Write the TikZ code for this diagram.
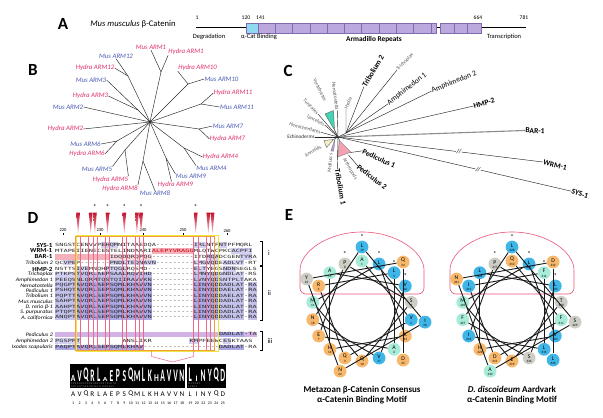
\documentclass[tikz,border=0pt]{standalone}
\usepackage{fontspec}
\usepackage{graphicx}
\setmainfont{Carlito}
\newfontfamily\seqff{DejaVu Sans Mono}
\usetikzlibrary{calc}
\definecolor{bpink}{HTML}{E0306A}
\definecolor{bblue}{HTML}{4B5BB4}
\definecolor{acyan}{HTML}{8FD9F2}
\definecolor{apurp}{HTML}{BBA9DD}
\definecolor{aedge}{HTML}{7F6BAE}
\definecolor{lavA}{HTML}{ABA8E3}
\definecolor{lavB}{HTML}{D3D1F2}
\definecolor{lilac}{HTML}{D2B2E4}
\definecolor{spink}{HTML}{F6B0BC}
\definecolor{colpink}{HTML}{EC6A88}
\definecolor{boxor}{HTML}{F2A03D}
\definecolor{boxye}{HTML}{F1E43C}
\definecolor{wblue}{HTML}{3FB6E7}
\definecolor{wteal}{HTML}{A8EBD9}
\definecolor{worange}{HTML}{F7B86C}
\definecolor{wgray}{HTML}{CDCDC6}
\definecolor{dome}{HTML}{EA5479}
\definecolor{cteal}{HTML}{44D3B3}
\definecolor{cpink}{HTML}{F3A2B2}
\definecolor{cyel}{HTML}{F2EFC4}
\definecolor{clil}{HTML}{B69CD8}
\definecolor{trired}{HTML}{C3122E}
\definecolor{trilight}{HTML}{F8C6CF}
\newcommand{\bgc}[4]{\fill[#1] ({55+4.2*(#3)},{#2-2.75}) rectangle ({55+4.2*((#4)+1)},{#2+2.75});}
\newcommand{\seqtxt}[1]{\scalebox{1}[0.62]{\seqff\fontsize{6.976}{7}\selectfont #1}}
\newcommand{\rlx}[1]{\scalebox{1.13}[1]{#1}}
\begin{document}
\begin{tikzpicture}[x=1pt,y=-1pt,
  plab/.style={font=\fontsize{17}{17}\selectfont\bfseries, inner sep=0},
  small/.style={font=\fontsize{6.5}{7}\selectfont, inner sep=0},
  num/.style={font=\fontsize{5.6}{6}\selectfont, inner sep=0},
  tl/.style={line width=0.45pt, draw=black!85},
  bm/.style={font=\fontsize{6.8}{7}\selectfont\itshape, inner sep=0.2pt, text=bblue},
  bh/.style={font=\fontsize{6.8}{7}\selectfont\itshape, inner sep=0.2pt, text=bpink},
  cg/.style={font=\fontsize{5.2}{5}\selectfont, text=black!65, inner sep=0.2pt},
  cb/.style={font=\fontsize{7.6}{8}\selectfont\bfseries, inner sep=0.2pt},
  cr/.style={font=\fontsize{7.6}{8}\selectfont, inner sep=0.2pt},
  rowlab/.style={font=\fontsize{5.3}{5}\selectfont\itshape, anchor=east, inner sep=0},
  rowbold/.style={font=\fontsize{6.2}{6}\selectfont\bfseries, anchor=east, inner sep=0},
  seq/.style={anchor=west, inner sep=0, text=black!85},
  res/.style={circle, minimum size=12.8pt, inner sep=0},
  reslet/.style={font=\fontsize{5.7}{5}\selectfont, inner sep=0},
  resnum/.style={font=\fontsize{3.3}{3}\selectfont, inner sep=0},
  wl/.style={line width=0.9pt, draw=black!90},
  ast/.style={font=\fontsize{7}{7}\selectfont, inner sep=0},
  ttl/.style={font=\fontsize{9}{9}\selectfont\bfseries, inner sep=0},
]
\useasboundingbox (0,0) rectangle (603,418);
\fill[white] (0,0) rectangle (603,418);

% ---------------- Panel A ----------------
\node[plab] (lA) at (63,24) {A};
\node[font=\fontsize{8.6}{9}\selectfont, inner sep=0] (tA) at (133,24.5) {\textit{Mus musculus} β-Catenin};
\coordinate (a0) at (196,27.5);
\coordinate (a1) at (526,27.5);
\draw[line width=0.6pt] (a0) -- (a1);
\draw[draw=aedge, fill=acyan, line width=0.4pt] (246,23) rectangle (258,33);
\draw[draw=aedge, fill=apurp, line width=0.4pt] (258,23) rectangle (436.5,33);
\foreach \x in {275,292,310,327,344,361.5,379,396,413,431} \draw[aedge, line width=0.4pt] (\x,23) -- (\x,33);
\draw[draw=aedge, fill=apurp, line width=0.4pt] (440,23) rectangle (481.5,33);
\foreach \x in {454,467} \draw[aedge, line width=0.4pt] (\x,23) -- (\x,33);
\node[num] (na1) at (197,17.5) {1};
\node[num] (na2) at (246,17.5) {120};
\node[num] (na3) at (260.5,17.5) {141};
\node[num] (na4) at (478,17.5) {664};
\node[num] (na5) at (524,17.5) {781};
\node[small] (la1) at (209,37) {Degradation};
\node[small] (la2) at (259,37) {α-Cat Binding};
\node[font=\fontsize{7.3}{8}\selectfont\bfseries, inner sep=0] (la3) at (374,40) {Armadillo Repeats};
\node[small] (la4) at (504,37) {Transcription};

% ---------------- Panel B ----------------
\node[plab] (lB) at (33,70) {B};
\coordinate (cB) at (150,122);
\node[bm] (m12) at (116,56) {Mus ARM12};
\node[bh] (m1) at (151,47.5) {Mus ARM1};
\node[bh] (h1) at (186,52) {Hydra ARM1};
\node[bh] (h12) at (95,68) {Hydra ARM12};
\node[bm] (m3) at (91,80) {Mus ARM3};
\node[bh] (h3) at (90.5,96) {Hydra ARM3};
\node[bm] (m2) at (68,107) {Mus ARM2};
\node[bh] (h2) at (65.5,129) {Hydra ARM2};
\node[bm] (m6) at (85.5,144) {Mus ARM6};
\node[bh] (h6) at (87,154) {Hydra ARM6};
\node[bm] (m5) at (97,169) {Mus ARM5};
\node[bh] (h5) at (110.5,179.5) {Hydra ARM5};
\node[bh] (h8) at (120,188.5) {Hydra ARM8};
\node[bm] (m8) at (155,193.5) {Mus ARM8};
\node[bh] (h9) at (175.5,185) {Hydra ARM9};
\node[bm] (m9) at (191,176.5) {Mus ARM9};
\node[bh] (h10) at (197.5,68) {Hydra ARM10};
\node[bm] (m10) at (221.5,79) {Mus ARM10};
\node[bh] (h11) at (233,93) {Hydra ARM11};
\node[bm] (m11) at (237,107) {Mus ARM11};
\node[bm] (m7) at (228,126) {Mus ARM7};
\node[bh] (h7) at (227.5,139) {Hydra ARM7};
\node[bh] (h4) at (220.5,157) {Hydra ARM4};
\node[bm] (m4) at (211.5,168) {Mus ARM4};
\coordinate (n1) at (161,72);
\coordinate (n12) at (128,76);
\coordinate (n3) at (138,110);
\coordinate (n6) at (117,141);
\coordinate (n5) at (125,150);
\coordinate (n8) at (143,161);
\coordinate (n9) at (166,158);
\coordinate (n4) at (184,148);
\coordinate (n7) at (199,129);
\coordinate (n11) at (201,104);
\coordinate (n10) at (188,84);
\foreach \nn in {n1,n12,n3,n6,n5,n8,n9,n4,n7,n11,n10} \draw[tl] (cB) -- (\nn);
\draw[tl] (n1) -- (m1.south); \draw[tl] (n1) -- (h1.south west);
\draw[tl] (n12) -- (m12.south); \draw[tl] (n12) -- (h12.east);
\draw[tl] (n3) -- (m3.east); \draw[tl] (n3) -- (h3.east);
\draw[tl] (cB) -- (m2.east); \draw[tl] (cB) -- (h2.east);
\draw[tl] (n6) -- (m6.east); \draw[tl] (n6) -- (h6.east);
\draw[tl] (n5) -- (m5.north east); \draw[tl] (n5) -- (h5.north east);
\draw[tl] (n8) -- (h8.north east); \draw[tl] (n8) -- (m8.north);
\draw[tl] (n9) -- ([xshift=-4pt]h9.north); \draw[tl] (n9) -- (m9.north west);
\draw[tl] (n4) -- (h4.west); \draw[tl] (n4) -- (m4.north west);
\draw[tl] (n7) -- (m7.west); \draw[tl] (n7) -- (h7.west);
\draw[tl] (n11) -- (h11.west); \draw[tl] (n11) -- (m11.west);
\draw[tl] (n10) -- (h10.south west); \draw[tl] (n10) -- (m10.west);

% ---------------- Panel C ----------------
\node[plab] (lC) at (288,71) {C};
\coordinate (cC) at (338,137);
\coordinate (cR) at (346,133);
\node[cg, text=black!85] (echi) at (301,137) {Echinoderms};
\node[cg, rotate=-15] (hemi) at (305,128) {Hemichordates};
\node[cg, rotate=-27] (lanc) at (316,120.5) {lancelets};
\node[cg, rotate=-47] (tuni) at (311,106.5) {Tunicates};
\node[cg, rotate=-64] (vert) at (320,90) {Vertebrates};
\node[cg, rotate=-83] (nema) at (335.5,96) {Nematostella};
\node[cg, rotate=68] (hydc) at (348.5,103) {Hydra};
\node[cb, rotate=60] (trib2) at (373,71) {Tribolium 2};
\node[cg, rotate=45] (tric) at (405,62) {Trichoplax};
\node[cr, rotate=38] (amp1) at (407,89) {Amphimedon 1};
\node[cr, rotate=22] (amp2) at (454,82) {Amphimedon 2};
\node[cb, rotate=16] (hmp) at (484,103) {HMP-2};
\node[cb, rotate=-3] (bar) at (535,131) {BAR-1};
\node[cb, rotate=-14] (wrm) at (555,165) {WRM-1};
\node[cb, rotate=-18] (sys) at (580,194) {SYS-1};
\node[cg, rotate=30] (anne) at (313,151) {Annelids};
\node[cg, rotate=85] (moll) at (330,163) {Molluscs};
\node[cg, rotate=-60] (arth) at (350,169) {Arthropods};
\node[cb, rotate=-80] (trib1) at (340.5,187) {Tribolium 1};
\node[cb, rotate=-25] (ped1) at (379,158.5) {Pediculus 1};
\node[cb, rotate=-38] (ped2) at (372,177) {Pediculus 2};
\draw[tl] (echi.east) -- (cC);
\draw[tl] (hemi.east) -- (cC);
\draw[tl] (lanc.east) -- (cC);
\draw[tl] (tuni.east) -- (cC);
\coordinate (vt3) at (334.5,130);
\draw[tl] (vt3) -- (cC);
\filldraw[fill=cteal, draw=black!70, line width=0.3pt] (325,114) -- (333.5,110.5) -- (vt3) -- cycle;
\draw[tl] (nema.east) -- (cC);
\draw[tl] (hydc.west) -- (cR);
\draw[tl] (cC) -- (cR);
\draw[tl] (cR) -- (trib2.west);
\draw[tl] (cR) -- (tric.west);
\draw[tl] (cR) -- (amp1.west);
\draw[tl] (cR) -- (amp2.west);
\draw[tl] (cC) -- (hmp.west);
\draw[line width=1.1pt, black!45] (cC) -- (bar.west);
\draw[tl] (cC) -- (wrm.west) node[pos=0.59, sloped, fill=white, inner xsep=0.4pt, inner ysep=0pt, font=\fontsize{6.5}{6}\selectfont] {/\kern-0.3pt/};
\draw[tl] (cC) -- (sys.west) node[pos=0.60, sloped, fill=white, inner xsep=0.4pt, inner ysep=0pt, font=\fontsize{6.5}{6}\selectfont] {/\kern-0.3pt/};
\coordinate (an3) at (333.5,139.5);
\draw[tl] (an3) -- (cC);
\filldraw[fill=cyel, draw=black!70, line width=0.3pt] (324,140.5) -- (an3) -- (326.5,147.5) -- cycle;
\coordinate (mo3) at (335,139);
\filldraw[fill=clil, draw=black!60, line width=0.25pt] (mo3) -- (330.8,151) -- (333.6,151.2) -- cycle;
\coordinate (ar1) at (339.5,140.5);
\filldraw[fill=cpink, draw=black!60, line width=0.3pt] (ar1) -- (337.5,157) -- (351,152) -- cycle;
\draw[tl] (cC) -- (ar1);
\draw[tl] (cC) -- (trib1.west);
\coordinate (p1a) at (350.5,152.5);
\coordinate (p2a) at (348.5,155);
\draw[tl] (p1a) -- (ped1.west);
\draw[tl] (p2a) -- (ped2.west);

% ---------------- Panel D ----------------
\node[plab] (lD) at (33,218) {D};
\bgc{lavB}{245}{11}{14} \bgc{lavB}{245}{33}{35} \bgc{lavB}{245}{39}{40}
\bgc{spink}{250.9}{23}{32} \bgc{lavB}{250.9}{42}{46}
\bgc{spink}{256.8}{0}{12} \bgc{spink!50}{256.8}{13}{22} \bgc{lavB}{256.8}{36}{38} \bgc{lavB}{256.8}{44}{46}
\bgc{lavB}{262.7}{2}{4} \bgc{lavB}{262.7}{13}{23} \bgc{lavB}{262.7}{33}{38} \bgc{lavB}{262.7}{40}{44}
\bgc{lavB}{269}{5}{7} \bgc{lavB}{269}{12}{16} \bgc{lavB}{269}{33}{35} \bgc{lavB}{269}{40}{42}
\foreach \yy in {274.4,279.8} { \bgc{lavB}{\yy}{0}{4} \bgc{lavA!75}{\yy}{5}{22} \bgc{lavA!75}{\yy}{33}{38} \bgc{lavB}{\yy}{39}{44} }
\foreach \yy in {285.2,290.6,296,301.4,306.8,312.2,317.6} { \bgc{lavA!70}{\yy}{0}{4} \bgc{lavA}{\yy}{5}{22} \bgc{lavA}{\yy}{33}{38} \bgc{lavA!70}{\yy}{39}{44} \bgc{lavA!70}{\yy}{46}{47} }
\bgc{lilac}{334.4}{0}{47} \bgc{lavA}{334.4}{39}{44}
\bgc{lavB}{341}{0}{5} \bgc{lavB}{341}{32}{33} \bgc{lavB}{341}{40}{41}
\bgc{lavA}{347.4}{0}{20} \bgc{lavA}{347.4}{39}{44}
\node[seq] (s1) at (55,245) {\seqtxt{SNGSTCENVVPEHQMNITAAEDQA---------IRLNTFNTPFMQRL}};
\node[seq] (s2) at (55,250.9) {\seqtxt{MTAPEIIENECESTELINDAARI}};
\node[seq, text=red!80!black] (s2b) at ({55+4.2*23},250.9) {\seqtxt{ALEPYVRAGG}};
\node[seq] (s2c) at ({55+4.2*33},250.9) {\seqtxt{MLQTWCPKCACPFI}};
\node[seq] (s3) at ({55+4.2*13},256.8) {\seqtxt{IDQDQRQPQG----------ITDRQADCGENTYRA}};
\node[seq] (s4) at (55,262.7) {\seqtxt{QCVPEP-------PNDLTEQNAVN---------LMGVQDEADLVT-RT}};
\node[seq] (s5) at (55,269) {\seqtxt{NSTTSIVEMNQHPTQGLRQSMD-----------ELTYEGSNDNSEGLS}};
\node[seq] (s6) at (55,274.4) {\seqtxt{PTKPSTVQRLAEPSAALRQVIHD----------LMNYQDGNDLAT-RS}};
\node[seq] (s7) at (55,279.8) {\seqtxt{PEEQSNLQRMTQSTQIIRAVVKN----------LVNYQDSNTPLTAKA}};
\node[seq] (s8) at (55,285.2) {\seqtxt{PQGPTAVQRLAEPSQMLKHAVVN----------LINYQDDADLAT-RA}};
\node[seq] (s9) at (55,290.6) {\seqtxt{PSHQTAVQRLSEPSQMLKHAVVN----------LINYQDDAELAT-RA}};
\node[seq] (s10) at (55,296) {\seqtxt{PQPTTAVQRLSEPSQMLKHAVVN----------LINYQDDAELAT-RA}};
\node[seq] (s11) at (55,301.4) {\seqtxt{SAHPTAVQRLAEPSQMLKHAVVN----------LINYQDDADLAT-RA}};
\node[seq] (s12) at (55,306.8) {\seqtxt{AAHPTAVQRLAEPSQMLKHAVVN----------LINYQDDADLAT-RA}};
\node[seq] (s13) at (55,312.2) {\seqtxt{PTQPTAVQRLSEPSQMLKHAVVN----------LINYQDDADLAT-RA}};
\node[seq] (s14) at (55,317.6) {\seqtxt{ANQPTAVQRLSEPSQMLKHAVVN----------LINYQDDADLAT-RA}};
\node[seq] (s15) at ({55+4.2*39},334.4) {\seqtxt{DADLAT-TA}};
\node[seq] (s16) at (55,341) {\seqtxt{PGSPPT}};
\node[seq] (s16b) at ({55+4.2*16},341) {\seqtxt{ANSLIKR}};
\node[seq] (s16c) at ({55+4.2*32},341) {\seqtxt{KMPFEEWCESKTAAS}};
\node[seq] (s17) at (55,347.4) {\seqtxt{PAQPTAVQRLSEPSQMLKHAV------------------DADLAT-RA}};
\node[rowbold] (r1) at (52.5,245) {\rlx{SYS-1}};
\node[rowbold] (r2) at (52.5,250.9) {\rlx{WRM-1}};
\node[rowbold] (r3) at (52.5,256.8) {\rlx{BAR-1}};
\node[rowlab] (r4) at (53,262.7) {\rlx{Tribolium 2}};
\node[rowbold] (r5) at (52.5,269) {\rlx{HMP-2}};
\node[rowlab] (r6) at (53,274.4) {\rlx{Trichoplax}};
\node[rowlab] (r7) at (53,279.8) {\rlx{Amphimedon 1}};
\node[rowlab] (r8) at (53,285.2) {\rlx{Nematostella}};
\node[rowlab] (r9) at (53,290.6) {\rlx{Pediculus 1}};
\node[rowlab] (r10) at (53,296) {\rlx{Tribolium 1}};
\node[rowlab] (r11) at (53,301.4) {\rlx{Mus musculus}};
\node[rowlab] (r12) at (53,306.8) {\rlx{D. rerio β-1}};
\node[rowlab] (r13) at (53,312.2) {\rlx{S. purpuratus}};
\node[rowlab] (r14) at (53,317.6) {\rlx{A. californica}};
\node[rowlab] (r15) at (53,334.4) {\rlx{Pediculus 2}};
\node[rowlab] (r16) at (53,341) {\rlx{Amphimedon 2}};
\node[rowlab] (r17) at (53,347.4) {\rlx{Ixodes scapularis}};
\foreach \cc in {5,8,9,12,16,19,20,33,36,37} \draw[colpink, line width=0.4pt] ({55+4.2*\cc},236.5) rectangle ({55+4.2*(\cc+1)},350);
\draw[boxye, line width=0.7pt] (76,235) rectangle (218.8,351.3);
\draw[boxor, line width=0.6pt] (75.6,235.8) rectangle (214.6,350.6);
\foreach \v/\x in {220/63,230/100,240/143,250/183,260/227} {
  \node[font=\fontsize{4.6}{5}\selectfont, inner sep=0] at (\x,230.5) {\v};
  \draw[line width=0.3pt] (\x,233.2) -- (\x,235.2);
}
\foreach \cc in {5,8,9,12,16,19,20,33,36,37} {
  \pgfmathsetmacro\xc{55+4.2*(\cc+0.5)}
  \shade[top color=trired, bottom color=trilight] ({\xc-1.9},212.5) -- ({\xc+1.9},212.5) -- (\xc,234) -- cycle;
}
\foreach \cc in {9,12,16,20,33} \node[ast] at ({55+4.2*(\cc+0.5)},207.5) {*};
\draw[line width=0.5pt] (259.5,241.5) -- (262.5,241.5) -- (262.5,265.5) -- (259.5,265.5);
\draw[line width=0.5pt] (259.5,266.5) -- (262.5,266.5) -- (262.5,320.5) -- (259.5,320.5);
\draw[line width=0.5pt] (259.5,331.5) -- (262.5,331.5) -- (262.5,350) -- (259.5,350);
\node[font=\fontsize{7}{7}\selectfont, inner sep=0] (gi) at (269,253.5) {i};
\node[font=\fontsize{7}{7}\selectfont, inner sep=0] (gii) at (269.5,293.5) {ii};
\node[font=\fontsize{7}{7}\selectfont, inner sep=0] (giii) at (270,341) {iii};
\draw[colpink, line width=0.5pt] (151.6,351) -- (151.6,356.5) -- (172.6,362) -- (193.6,356.5) -- (193.6,351);
\fill[black] (70,364) rectangle (185,388);
\fill[black] (187,364) rectangle (226,388);
\foreach \lt/\hh [count=\i] in {A/0.45, V/0.8, Q/0.85, R/0.85, L/1.0, A/0.3, E/0.8, P/0.9, S/0.8, Q/0.85, M/0.8, L/1.0, K/0.85, H/0.5, A/0.85, V/0.85, V/0.85, N/0.85} {
  \pgfmathsetmacro\hs{\hh*2.6}
  \node[anchor=south, inner sep=0, text=white] at ({70+6.4*(\i-0.5)},381.5) {\scalebox{0.95}[\hs]{\fontsize{8}{8}\selectfont\bfseries \lt}};
}
\foreach \lt/\hh [count=\i] in {L/1.0, I/0.4, N/0.85, Y/0.9, Q/0.85, D/0.9} {
  \pgfmathsetmacro\hs{\hh*2.6}
  \node[anchor=south, inner sep=0, text=white] at ({187+6.5*(\i-0.5)},381.5) {\scalebox{0.95}[\hs]{\fontsize{8}{8}\selectfont\bfseries \lt}};
}
\node[anchor=north west, inner sep=0, text=white!55!black, font=\fontsize{2.6}{2.8}\selectfont, align=left] at (71,382.6) {S D E A G K S T A E K H D S L N R T E S G T A\\D K T S Q T A K E I D S N A T L N H D E K S};
\node[anchor=north west, inner sep=0, text=white!55!black, font=\fontsize{2.6}{2.8}\selectfont, align=left] at (188,382.6) {M V S D E T\\F S K N S};
\foreach \lt/\nn/\x in {A/1/73.2, V/2/79.6, Q/3/86.0, R/4/92.4, L/5/98.8, A/6/105.2, E/7/111.6, P/8/118.0, S/9/124.4, Q/10/130.8, M/11/137.2, L/12/143.6, K/13/150.0, H/14/156.4, A/15/162.8, V/16/169.2, V/17/175.6, N/18/182.0, L/19/190.25, I/20/196.75, N/22/203.25, Y/23/209.75, Q/24/216.25, D/25/222.75} {
  \node[font=\fontsize{7.2}{7}\selectfont, inner sep=0] at (\x,394) {\lt};
  \node[font=\fontsize{3.9}{4}\selectfont, inner sep=0] at (\x,403) {\nn};
}

% ---------------- Panel E ----------------
\node[plab] (lE) at (289,215) {E};
\draw[dome, line width=0.6pt, rounded corners=6pt] (300,294) -- (300,276) arc[start angle=180, end angle=360, x radius=62, y radius=44] -- (424,294) -- cycle;
\draw[dome, line width=0.6pt, rounded corners=6pt] (450,294) -- (450,276) arc[start angle=180, end angle=360, x radius=62, y radius=44] -- (574,294) -- cycle;
\foreach \lt/\nn/\cc [count=\i from 0] in {A/1/wteal, V/2/wblue, Q/3/worange, R/4/worange, L/5/wblue, A/6/wteal, E/7/worange, P/8/wgray, S/9/wgray, Q/10/worange, M/11/wteal, L/12/wblue, K/13/worange, H/14/worange, A/15/wteal, V/16/wblue, V/17/wblue, N/18/worange, L/19/wblue, I/20/wblue, N/22/worange, Y/23/wgray, Q/24/worange, D/25/worange} {
  \pgfmathsetmacro\rr{\i<18 ? 50 : 64}
  \node[res, fill=\cc] (wa\i) at ({362+\rr*cos(100*\i-90)},{311+\rr*sin(100*\i-90)}) {};
}
\foreach \lt/\nn/\cc [count=\i from 0] in {Q/310/worange, F/311/wteal, D/312/worange, I/313/wblue, F/314/wteal, L/315/wblue, I/316/wblue, P/317/wgray, T/318/wgray, E/319/worange, M/320/wteal, L/321/wblue, V/322/wblue, H/323/worange, L/324/wblue, L/325/wblue, S/326/wgray, F/327/wteal, L/328/wblue, S/329/wgray, A/330/wteal, N/331/worange, D/332/worange, L/333/wblue} {
  \pgfmathsetmacro\rr{\i<18 ? 50 : 64}
  \node[res, fill=\cc] (wb\i) at ({512+\rr*cos(100*\i-90)},{311+\rr*sin(100*\i-90)}) {};
}
\foreach \i in {0,...,22} {
  \pgfmathtruncatemacro\j{\i+1}
  \draw[wl] (wa\i) -- (wa\j);
  \draw[wl] (wb\i) -- (wb\j);
}
\foreach \lt/\nn [count=\i from 0] in {A/1, V/2, Q/3, R/4, L/5, A/6, E/7, P/8, S/9, Q/10, M/11, L/12, K/13, H/14, A/15, V/16, V/17, N/18, L/19, I/20, N/22, Y/23, Q/24, D/25} {
  \node[reslet] at ($(wa\i)+(0,-1.6)$) {\lt};
  \node[resnum] at ($(wa\i)+(0,3.3)$) {\nn};
}
\foreach \lt/\nn [count=\i from 0] in {Q/310, F/311, D/312, I/313, F/314, L/315, I/316, P/317, T/318, E/319, M/320, L/321, V/322, H/323, L/324, L/325, S/326, F/327, L/328, S/329, A/330, N/331, D/332, L/333} {
  \node[reslet] at ($(wb\i)+(0,-1.6)$) {\lt};
  \node[resnum] at ($(wb\i)+(0,3.3)$) {\nn};
}
\foreach \i in {4,7,11,15,18} {
  \node[ast] at ($(wa\i)+(0,-9.6)$) {*};
  \node[ast] at ($(wb\i)+(0,-9.6)$) {*};
}
\node[ttl] (t1a) at (362,390) {Metazoan β-Catenin Consensus};
\node[ttl] (t1b) at (362,400.5) {α-Catenin Binding Motif};
\node[ttl] (t2a) at (512,389.5) {\textit{D. discoideum} Aardvark};
\node[ttl] (t2b) at (512,400.5) {α-Catenin Binding Motif};
\end{tikzpicture}
\end{document}
